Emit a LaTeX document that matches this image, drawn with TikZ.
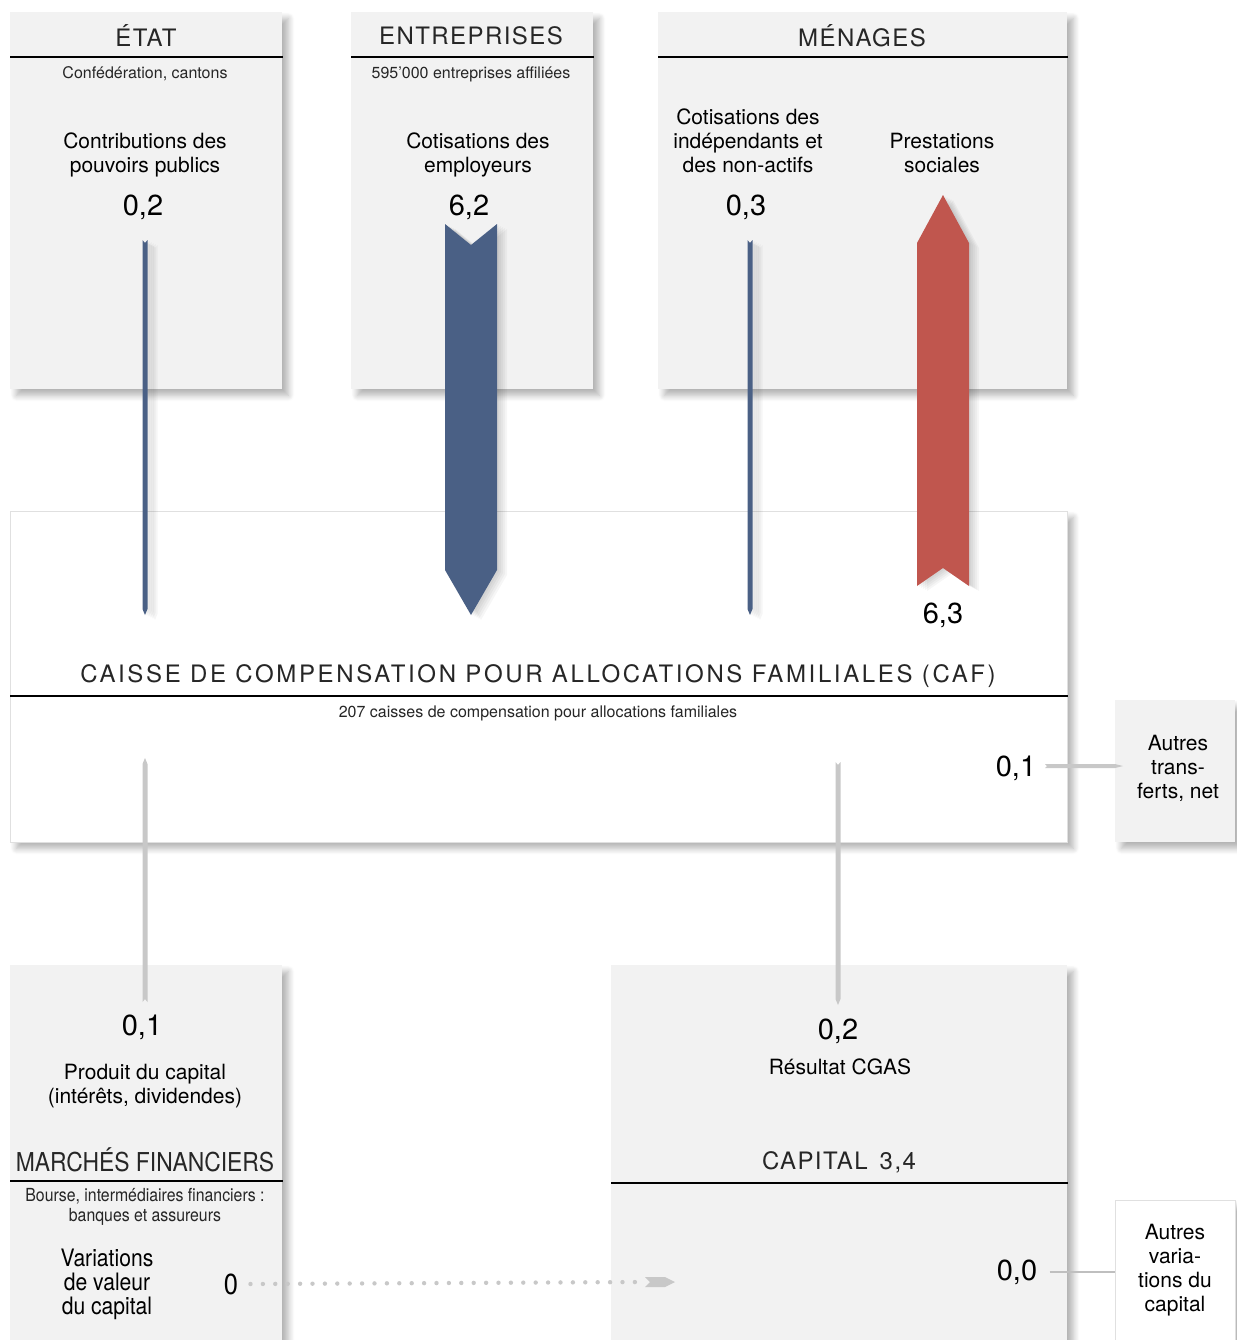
\documentclass[tikz,border=0pt]{standalone}
\usepackage{fontspec}
\setmainfont{TeX Gyre Heros}
\newfontfamily\titlefont[LetterSpace=6]{TeX Gyre Heros}
\newfontfamily\caffont[LetterSpace=11]{TeX Gyre Heros}
\newfontfamily\condfont[FakeStretch=0.88]{TeX Gyre Heros}
\usepackage{tikz}
\usetikzlibrary{calc,shadows.blur}
\definecolor{flowblue}{RGB}{74,96,133}
\definecolor{flowred}{RGB}{192,86,78}
\definecolor{flowgray}{RGB}{200,200,200}
\definecolor{panelgray}{RGB}{242,242,242}

% tail, head, half width, notch, point (signed), style
\newcommand{\vflow}[6]{%
  \fill[#6] ($(#1)+(-#3,0)$) -- ($(#1)+(0,#4)$) -- ($(#1)+(#3,0)$)
    -- ($(#2)+(#3,#5)$) -- (#2) -- ($(#2)+(-#3,#5)$) -- cycle;}
\newcommand{\hflow}[6]{%
  \fill[#6] ($(#1)+(0,-#3)$) -- ($(#1)+(#4,0)$) -- ($(#1)+(0,#3)$)
    -- ($(#2)+(#5,#3)$) -- (#2) -- ($(#2)+(#5,-#3)$) -- cycle;}

\begin{document}
\begin{tikzpicture}[x=0.5pt,y=-0.5pt,
    panel/.style={fill=panelgray,anchor=north west,inner sep=0pt,
      blur shadow={shadow xshift=3pt,shadow yshift=-3pt,shadow blur radius=3pt,shadow blur steps=8,shadow opacity=30}},
    whitepanel/.style={panel,fill=white,draw=black!12,line width=0.4pt},
    flowshadow/.style={
      preaction={fill=black,opacity=0.035,transform canvas={xshift=5pt,yshift=-2.5pt}},
      preaction={fill=black,opacity=0.035,transform canvas={xshift=4pt,yshift=-2pt}},
      preaction={fill=black,opacity=0.035,transform canvas={xshift=3pt,yshift=-1.5pt}},
      preaction={fill=black,opacity=0.035,transform canvas={xshift=2pt,yshift=-1pt}},
      preaction={fill=black,opacity=0.035,transform canvas={xshift=1pt,yshift=-0.5pt}}},
    rule/.style={line width=0.6pt,black},
    title/.style={font=\titlefont\fontsize{12}{14}\selectfont,text=black!85,inner sep=0pt},
    sub/.style={font=\fontsize{8}{10}\selectfont,align=center,inner sep=0pt,text=black!85},
    lbl/.style={font=\fontsize{10.5}{12}\selectfont,align=center,inner sep=0pt},
    val/.style={font=\fontsize{14.5}{16}\selectfont,inner sep=0pt}]
  \useasboundingbox (0,0) rectangle (1237,1340);
  \clip (0,0) rectangle (1237,1340);

  % sectors
  \node[panel,minimum width=136pt,minimum height=188.5pt] (etat) at (10,12) {};
  \node[panel,minimum width=121pt,minimum height=188.5pt] (entr) at (351,12) {};
  \node[panel,minimum width=204.5pt,minimum height=188.5pt] (menages) at (658,12) {};
  \node[whitepanel,minimum width=528.5pt,minimum height=165.5pt] (caf) at (10,511) {};
  \node[panel,minimum width=60pt,minimum height=71pt] (transf) at (1115,700) {};
  \node[panel,minimum width=136pt,minimum height=190pt] (marches) at (10,965) {};
  \node[panel,minimum width=228pt,minimum height=190pt] (capital) at (611,965) {};
  \node[whitepanel,minimum width=60pt,minimum height=75pt] (autresvar) at (1115,1200) {};

  \foreach \b/\dy in {etat/45,entr/45,menages/45,caf/185,marches/216,capital/218}
    \draw[rule] ($(\b.north west)+(0,\dy)$) -- ($(\b.north east)+(0,\dy)$);

  % texts
  \node[title] (etat-t) at (146,36) {ÉTAT};
  \node[sub] (etat-s) at (145,74) {Confédération, cantons};
  \node[lbl] (etat-l) at (145,155) {Contributions des\\pouvoirs publics};
  \node[val] (etat-v) at (143,207) {0,2};

  \node[title] (entr-t) at (471,36) {ENTREPRISES};
  \node[sub] (entr-s) at (471,74) {595’000 entreprises affiliées};
  \node[lbl] (entr-l) at (478,155) {Cotisations des\\employeurs};
  \node[val] (entr-v) at (469,207) {6,2};

  \node[title] (men-t) at (862,36) {MÉNAGES};
  \node[lbl] (men-l) at (748,141) {Cotisations des\\indépendants et\\des non-actifs};
  \node[val] (men-v) at (746,207) {0,3};
  \node[lbl] (prest-l) at (942,153) {Prestations\\sociales};
  \node[val] (prest-v) at (943,615) {6,3};

  \node[title,font=\caffont\fontsize{12}{14}\selectfont] (caf-t) at (538,676) {CAISSE DE COMPENSATION POUR ALLOCATIONS FAMILIALES (CAF)};
  \node[sub] (caf-s) at (538,713) {207 caisses de compensation pour allocations familiales};
  \node[val] (transf-v) at (1016,768) {0,1};
  \node[lbl] (transf-l) at (1178,768) {Autres\\trans-\\ferts, net};

  \node[val] (march-v) at (142,1027) {0,1};
  \node[lbl] (march-l) at (145,1086) {Produit du capital\\(intérêts, dividendes)};
  \node[title,font=\condfont\fontsize{13}{15}\selectfont] (march-t) at (145,1160) {MARCHÉS FINANCIERS};
  \node[sub,font=\condfont\fontsize{9}{10}\selectfont] (march-s) at (145,1207) {Bourse, intermédiaires financiers :\\banques et assureurs};
  \node[lbl,font=\condfont\fontsize{12}{12}\selectfont] (var-l) at (107,1284) {Variations\\de valeur\\du capital};
  \node[val,font=\condfont\fontsize{14.5}{16}\selectfont] (var-v) at (231,1284) {0};

  \node[val] (cap-v) at (838,1031) {0,2};
  \node[lbl] (cap-l) at (840,1067) {Résultat CGAS};
  \node[title] (cap-t) at (839,1162) {CAPITAL\enspace 3,4};
  \node[val] (autres-v) at (1017,1272) {0,0};
  \node[lbl] (autres-l) at (1175,1270) {Autres\\varia-\\tions du\\capital};

  % flows
  \coordinate (etat-out) at (145,240);   \coordinate (caf-in1) at (145,615);
  \coordinate (entr-out) at (471,224);   \coordinate (caf-in2) at (471,615);
  \coordinate (men-out) at (750,240);    \coordinate (caf-in3) at (750,615);
  \coordinate (caf-out1) at (943,586);   \coordinate (men-in) at (943,195);
  \coordinate (march-out) at (145,1002); \coordinate (caf-in4) at (145,758);
  \coordinate (caf-out2) at (838,762);   \coordinate (cap-in) at (838,1005);
  \coordinate (caf-out3) at (1045,766);  \coordinate (transf-in) at (1123,766);
  \coordinate (dots-end) at (645,1282);  \coordinate (cap-in2) at (675,1282);

  \vflow{etat-out}{caf-in1}{2.5}{3}{-6}{flowblue,flowshadow}
  \vflow{entr-out}{caf-in2}{26}{21}{-45}{flowblue,flowshadow}
  \vflow{men-out}{caf-in3}{2.5}{3}{-6}{flowblue,flowshadow}
  \vflow{caf-out1}{men-in}{26}{-18}{48}{flowred,flowshadow}
  \vflow{march-out}{caf-in4}{2.5}{-3}{6}{flowgray}
  \vflow{caf-out2}{cap-in}{2.5}{3}{-6}{flowgray}
  \hflow{caf-out3}{transf-in}{2}{2}{-8}{flowgray}

  \draw[flowgray,line width=2.2pt,line cap=round,dash pattern=on 0pt off 6.2pt]
    (var-v.east) ++(12,0) -- (dots-end);
  \hflow{dots-end}{cap-in2}{5}{5}{-10}{flowgray}
  \draw[black!25,line width=0.7pt] (autres-v.east) ++(12,0) -- (autres-v.east -| autresvar.west);
\end{tikzpicture}
\end{document}
